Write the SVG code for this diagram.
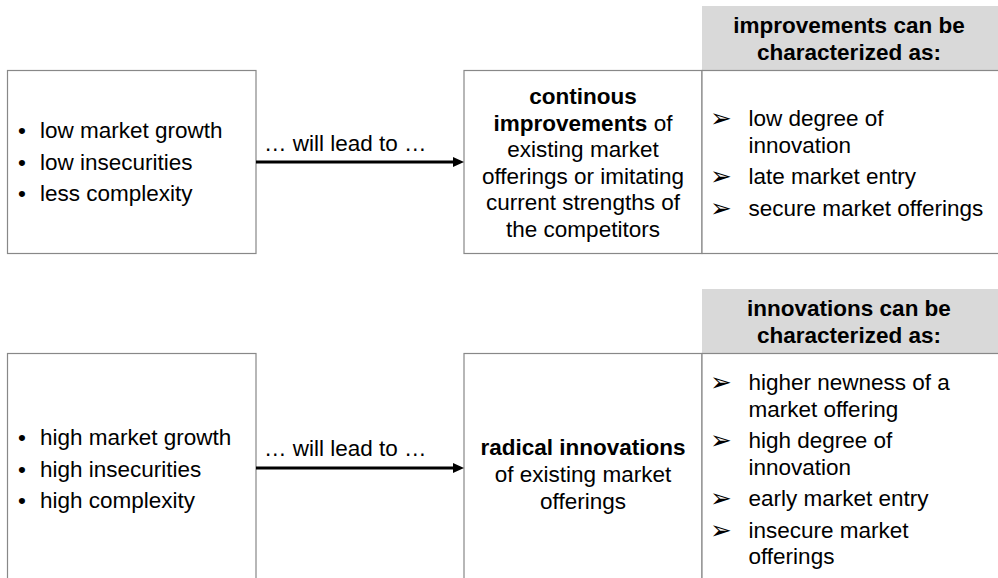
<svg xmlns="http://www.w3.org/2000/svg" width="998" height="578" viewBox="0 0 998 578">
<defs>
<style>
.box{fill:#fff;stroke:#888;stroke-width:1.2}
.hdr{fill:#d9d9d9;stroke:none}
.t{font-family:"Liberation Sans",Arial,sans-serif;font-size:22.5px;fill:#000}
.b{font-weight:bold}
.c{text-anchor:middle}
.sym{font-family:"DejaVu Sans",sans-serif;font-size:26px;fill:#000}
.conn{stroke:#000;stroke-width:3;fill:none}
</style>
<marker id="ah" markerUnits="userSpaceOnUse" markerWidth="12" markerHeight="11" refX="2" refY="5" orient="auto">
<path d="M0,0 L11,5 L0,10 z" fill="#000"/>
</marker>
</defs>
<rect width="998" height="578" fill="#fff"/>

<g id="header-top">
<rect class="hdr" x="702" y="6" width="296" height="64"/>
<text class="t b c" x="849" y="33">improvements can be</text>
<text class="t b c" x="849" y="60">characterized as:</text>
</g>

<g id="conditions-low">
<rect class="box" x="7.5" y="70.5" width="248.5" height="183"/>
<text class="t" x="18" y="138">•</text>
<text class="t" x="40" y="138">low market growth</text>
<text class="t" x="18" y="169.5">•</text>
<text class="t" x="40" y="169.5">low insecurities</text>
<text class="t" x="18" y="201">•</text>
<text class="t" x="40" y="201">less complexity</text>
</g>

<g id="result-improvements">
<rect class="box" x="464" y="70.5" width="238" height="183"/>
<text class="t c" x="583" y="104"><tspan class="b">continous</tspan></text>
<text class="t c" x="583" y="130.5"><tspan class="b">improvements</tspan> of</text>
<text class="t c" x="583" y="157">existing market</text>
<text class="t c" x="583" y="183.5">offerings or imitating</text>
<text class="t c" x="583" y="210">current strengths of</text>
<text class="t c" x="583" y="236.5">the competitors</text>
</g>

<g id="chars-improvements">
<rect class="box" x="702" y="70.5" width="300" height="183"/>
<text class="sym" x="710" y="127">➢</text>
<text class="t" x="748.5" y="126">low degree of</text>
<text class="t" x="748.5" y="152.5">innovation</text>
<text class="sym" x="710" y="185">➢</text>
<text class="t" x="748.5" y="184">late market entry</text>
<text class="sym" x="710" y="216.5">➢</text>
<text class="t" x="748.5" y="215.5">secure market offerings</text>
</g>

<g id="header-bottom">
<rect class="hdr" x="702" y="289" width="296" height="64"/>
<text class="t b c" x="849" y="316">innovations can be</text>
<text class="t b c" x="849" y="343">characterized as:</text>
</g>

<g id="conditions-high">
<rect class="box" x="7.5" y="353.5" width="248.5" height="240"/>
<text class="t" x="18" y="445">•</text>
<text class="t" x="40" y="445">high market growth</text>
<text class="t" x="18" y="476.5">•</text>
<text class="t" x="40" y="476.5">high insecurities</text>
<text class="t" x="18" y="508">•</text>
<text class="t" x="40" y="508">high complexity</text>
</g>

<g id="result-innovations">
<rect class="box" x="464" y="353.5" width="238" height="240"/>
<text class="t c" x="583" y="455"><tspan class="b">radical innovations</tspan></text>
<text class="t c" x="583" y="482">of existing market</text>
<text class="t c" x="583" y="509">offerings</text>
</g>

<g id="chars-innovations">
<rect class="box" x="702" y="353.5" width="300" height="240"/>
<text class="sym" x="710" y="391">➢</text>
<text class="t" x="748.5" y="390">higher newness of a</text>
<text class="t" x="748.5" y="416.5">market offering</text>
<text class="sym" x="710" y="449">➢</text>
<text class="t" x="748.5" y="448">high degree of</text>
<text class="t" x="748.5" y="474.5">innovation</text>
<text class="sym" x="710" y="507">➢</text>
<text class="t" x="748.5" y="506">early market entry</text>
<text class="sym" x="710" y="538.5">➢</text>
<text class="t" x="748.5" y="537.5">insecure market</text>
<text class="t" x="748.5" y="564">offerings</text>
</g>

<g id="connectors">
<line class="conn" x1="256" y1="162" x2="455" y2="162" marker-end="url(#ah)"/>
<text class="t" x="264" y="151">… will lead to …</text>
<line class="conn" x1="256" y1="468" x2="455" y2="468" marker-end="url(#ah)"/>
<text class="t" x="264" y="456">… will lead to …</text>
</g>
</svg>
